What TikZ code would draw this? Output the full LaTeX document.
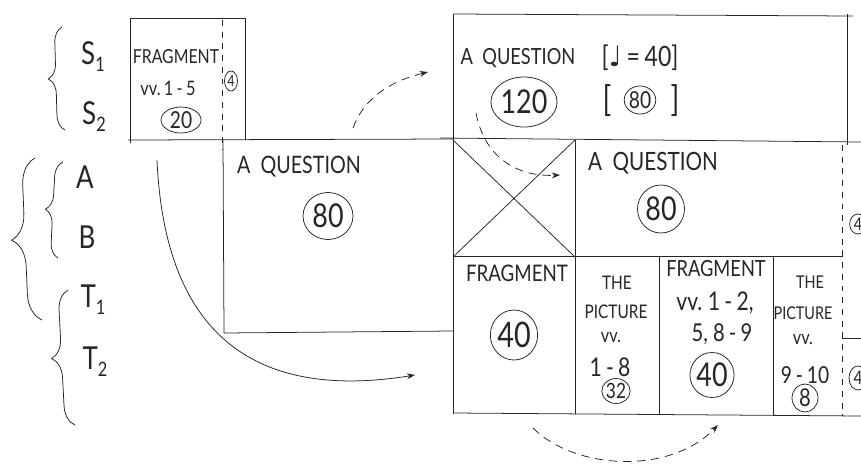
\documentclass[tikz,border=0pt]{standalone}
\usepackage{fontspec}
\setmainfont{Lato}[FakeStretch=0.82]
\newfontfamily\symf{DejaVu Sans}
\usetikzlibrary{shapes.geometric,arrows.meta,decorations.pathreplacing}
\newcommand\fs[1]{\fontsize{#1}{#1}\selectfont}
\newcommand\sbs[1]{{\fs{17}\raisebox{-6pt}{#1}}}
\tikzset{
  ln/.style={line width=0.65pt, draw=black!85},
  dashln/.style={ln, dash pattern=on 5pt off 5pt},
  ring/.style={ellipse, draw=black!85, line width=0.65pt, inner sep=0pt, text=black!85},
  txt/.style={inner sep=0pt, text=black!85},
  brc/.style={decorate, decoration={brace, amplitude=#1}, line width=0.65pt, draw=black!85},
  arr/.style={-{Stealth[length=7pt,width=5pt]}},
  darr/.style={ln, dash pattern=on 7pt off 5pt, -{Stealth[length=7pt,width=5pt]}}
}
\begin{document}
\begin{tikzpicture}[x=0.03cm,y=-0.03cm]
\clip (0,0) rectangle (861,466);
\fill[white] (0,0) rectangle (861,466);

% ---------- left braces and labels
\draw[brc=13pt] (65,130) -- (62,27);
\draw[brc=23pt] (42,320) -- (35,158);
\draw[brc=13pt] (58,258) -- (63,162);
\draw[brc=17pt] (75,425) -- (68,290);
\node[txt,font=\fs{27}] (s1) at (93,57) {S\sbs{1}};
\node[txt,font=\fs{27}] (s2) at (94,117) {S\sbs{2}};
\node[txt,font=\fs{27}] (la) at (85,177) {A};
\node[txt,font=\fs{27}] (lb) at (87,237) {B};
\node[txt,font=\fs{27}] (t1) at (93,300) {T\sbs{1}};
\node[txt,font=\fs{27}] (t2) at (95,362) {T\sbs{2}};

% ---------- small fragment box
\draw[ln] (130,143) -- (130,18) -- (245,18) -- (245,140);
\draw[ln] (128,140) -- (453,139);
\draw[dashln] (222,20) -- (222,150);
\node[txt,font=\fs{16.5}] (fr1) at (176,57) {FRAGMENT};
\node[txt,font=\fs{17}] (vv1) at (168,88) {vv.\,1\,-\,5};
\node[ring,minimum width=1.2cm,minimum height=0.78cm,font=\fs{20}] (c20) at (181,120) {20};
\node[ring,minimum width=0.39cm,minimum height=0.6cm,font=\fs{13}] (c4a) at (231,81) {4};

% ---------- first question box
\draw[ln] (223,140) -- (224,333) -- (453,331);
\node[txt,font=\fs{20.5}] (q1) at (299,167) {A\ \ QUESTION};
\node[ring,minimum width=1.5cm,minimum height=1.41cm,font=\fs{28}] (c80a) at (328,216) {80};

% ---------- big frame
\draw[ln] (453,14) -- (453,414);
\draw[ln] (453,14) -- (853,16);
\draw[ln] (847,14) -- (847,145);
\draw[ln] (440,138) -- (861,142);
\node[txt,font=\fs{19}] (q0) at (518,58) {A\ \ QUESTION};
\node[txt,font=\fs{24}] (tempo) at (640,58) {[{\symf ♩}\,=\,40]};
\node[ring,minimum width=1.86cm,minimum height=1.5cm,font=\fs{28}] (c120) at (524,102) {120};
\node[txt,font=\fs{30}] (lbr) at (607,101) {[};
\node[ring,minimum width=0.9cm,minimum height=0.84cm,font=\fs{20}] (c80b) at (640,100) {80};
\node[txt,font=\fs{30}] (rbr) at (675,101) {]};

% crossed box
\draw[ln] (575,140) -- (575,414);
\draw[ln] (453,140) -- (575,257) (575,140) -- (453,257);
\draw[ln] (453,256) -- (843,256);
\draw[dashln] (842,145) -- (842,416);

% second question
\node[txt,font=\fs{21.5}] (q2) at (653,163) {A\ \ QUESTION};
\node[ring,minimum width=1.41cm,minimum height=1.44cm,font=\fs{28}] (c80c) at (661,209) {80};
\node[ring,minimum width=0.5cm,minimum height=0.6cm,font=\fs{15}] (c4b) at (858,224) {4};

% bottom row
\draw[ln] (659,256) -- (659,414);
\draw[ln] (773,256) -- (773,416);
\draw[ln] (453,413) -- (861,416);
\draw[ln] (842,338) -- (861,338);
\node[txt,font=\fs{19.5}] (fr2) at (517,273) {FRAGMENT};
\node[ring,minimum width=1.35cm,minimum height=1.5cm,font=\fs{30}] (c40a) at (514,335) {40};
\node[txt,font=\fs{16}] (the1) at (617,283) {THE};
\node[txt,font=\fs{16}] (pic1) at (616,312) {PICTURE};
\node[txt,font=\fs{17}] (vv2) at (611,338) {vv.};
\node[txt,font=\fs{22}] (r18) at (610,367) {1\,-\,8};
\node[ring,minimum width=0.78cm,minimum height=0.75cm,font=\fs{18}] (c32) at (616,391) {32};
\node[txt,font=\fs{19}] (fr3) at (716,269) {FRAGMENT};
\node[txt,font=\fs{22}] (vv3) at (715,303) {vv.\ 1\,-\,2,};
\node[txt,font=\fs{21}] (vv4) at (722,334) {5,\ 8\,-\,9};
\node[ring,minimum width=1.2cm,minimum height=1.35cm,font=\fs{28}] (c40b) at (712,375) {40};
\node[txt,font=\fs{15}] (the2) at (810,282) {THE};
\node[txt,font=\fs{15}] (pic2) at (803,313) {PICTURE};
\node[txt,font=\fs{17}] (vv5) at (803,340) {vv.};
\node[txt,font=\fs{20}] (r910) at (805,375) {9\,-\,10};
\node[ring,minimum width=0.78cm,minimum height=0.84cm,font=\fs{21}] (c8) at (805,398) {8};
\node[ring,minimum width=0.54cm,minimum height=0.72cm,font=\fs{16}] (c4c) at (858,378) {4};

% ---------- arrows
\coordinate (a1s) at (157,160);
\coordinate (a1e) at (415,375);
\draw[ln,arr] (a1s) .. controls (165,340) and (260,400) .. (a1e);
\coordinate (a2s) at (353,128);
\coordinate (a2e) at (428,72);
\draw[darr] (a2s) .. controls (365,95) and (395,80) .. (a2e);
\coordinate (a3s) at (476,113);
\coordinate (a3e) at (560,175);
\draw[darr] (a3s) .. controls (485,160) and (520,177) .. (a3e);
\coordinate (a4s) at (533,428);
\coordinate (a4e) at (718,425);
\draw[darr] (a4s) .. controls (575,470) and (670,475) .. (a4e);
\end{tikzpicture}
\end{document}
